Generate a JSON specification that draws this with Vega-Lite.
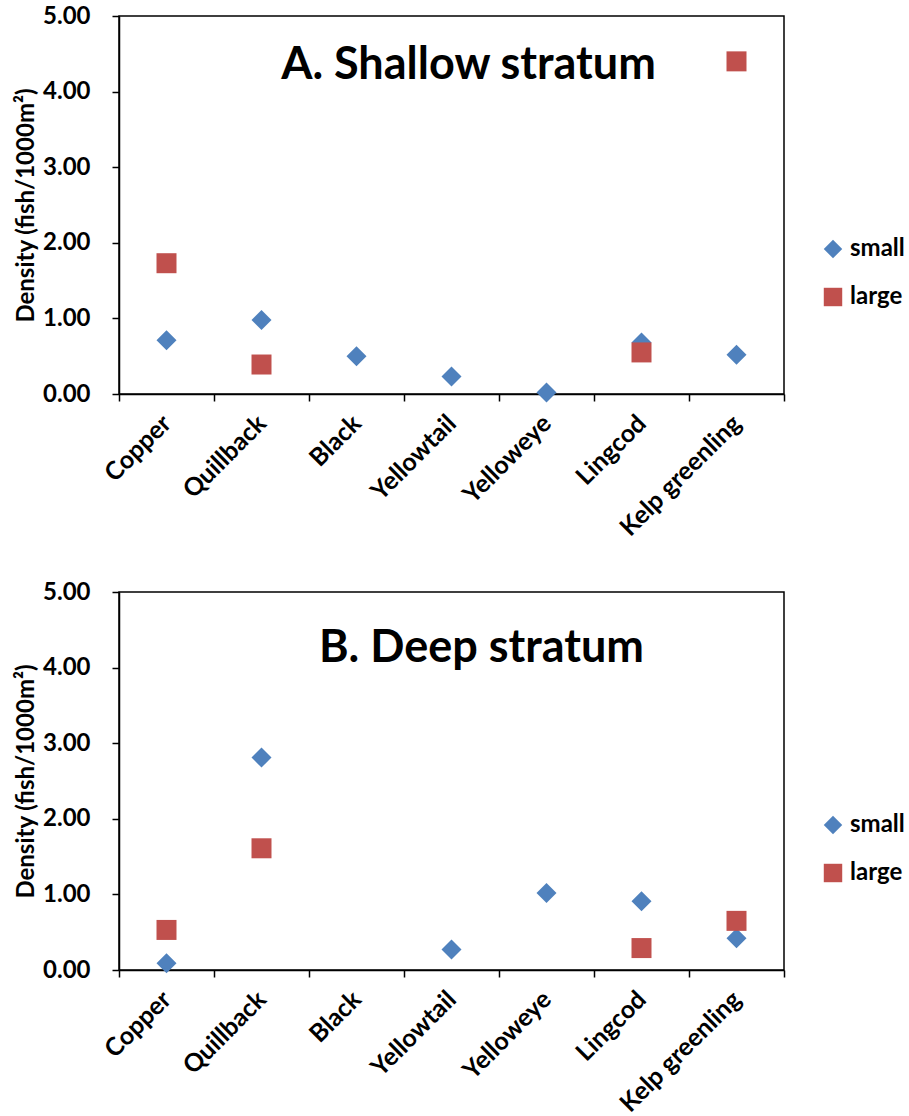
{
  "$schema": "https://vega.github.io/schema/vega-lite/v6.json",
  "padding": {"left": 13, "top": 3, "right": 0, "bottom": 0},
  "background": "white",
  "datasets": {
    "points": [
      {"panel": "A", "species": "Copper", "size": "small", "density": 0.71},
      {"panel": "A", "species": "Quillback", "size": "small", "density": 0.98},
      {"panel": "A", "species": "Black", "size": "small", "density": 0.50},
      {"panel": "A", "species": "Yellowtail", "size": "small", "density": 0.23},
      {"panel": "A", "species": "Yelloweye", "size": "small", "density": 0.02},
      {"panel": "A", "species": "Lingcod", "size": "small", "density": 0.68},
      {"panel": "A", "species": "Kelp greenling", "size": "small", "density": 0.52},
      {"panel": "A", "species": "Copper", "size": "large", "density": 1.73},
      {"panel": "A", "species": "Quillback", "size": "large", "density": 0.39},
      {"panel": "A", "species": "Lingcod", "size": "large", "density": 0.55},
      {"panel": "A", "species": "Kelp greenling", "size": "large", "density": 4.40},
      {"panel": "B", "species": "Copper", "size": "small", "density": 0.09},
      {"panel": "B", "species": "Quillback", "size": "small", "density": 2.81},
      {"panel": "B", "species": "Yellowtail", "size": "small", "density": 0.27},
      {"panel": "B", "species": "Yelloweye", "size": "small", "density": 1.02},
      {"panel": "B", "species": "Lingcod", "size": "small", "density": 0.91},
      {"panel": "B", "species": "Kelp greenling", "size": "small", "density": 0.42},
      {"panel": "B", "species": "Copper", "size": "large", "density": 0.53},
      {"panel": "B", "species": "Quillback", "size": "large", "density": 1.61},
      {"panel": "B", "species": "Lingcod", "size": "large", "density": 0.29},
      {"panel": "B", "species": "Kelp greenling", "size": "large", "density": 0.65}
    ],
    "titles": [
      {"panel": "A", "label": "A. Shallow stratum"},
      {"panel": "B", "label": "B. Deep stratum"}
    ]
  },
  "bounds": "flush",
  "spacing": 198,
  "resolve": {"legend": {"color": "independent", "shape": "independent"}},
  "vconcat": [
    {
      "width": 665,
      "height": 378,
      "layer": [
        {
          "data": {"name": "points"},
          "transform": [{"filter": "datum.panel === 'A'"}],
          "mark": {"type": "point", "filled": true, "size": 400, "opacity": 1},
          "encoding": {
            "x": {"field": "species", "type": "nominal", "sort": null,
                  "scale": {"type": "band", "paddingInner": 0, "paddingOuter": 0,
                            "domain": ["Copper", "Quillback", "Black", "Yellowtail", "Yelloweye", "Lingcod", "Kelp greenling"]},
                  "title": null},
            "y": {"field": "density", "type": "quantitative",
                  "scale": {"domain": [0, 5], "nice": false},
                  "title": "Density (fish/1000m²)",
                  "axis": {"values": [0, 1, 2, 3, 4, 5], "format": ".2f"}},
            "color": {"field": "size", "type": "nominal",
                      "scale": {"domain": ["small", "large"], "range": ["#4F81BD", "#C0504D"]},
                      "legend": {"title": null, "orient": "none", "legendX": 702, "legendY": 221}},
            "shape": {"field": "size", "type": "nominal",
                      "scale": {"domain": ["small", "large"], "range": ["diamond", "square"]},
                      "legend": {"title": null, "orient": "none", "legendX": 702, "legendY": 221}}
          }
        },
        {
          "data": {"name": "titles"},
          "transform": [{"filter": "datum.panel === 'A'"}],
          "mark": {"type": "text", "fontSize": 45, "fontWeight": "bold", "color": "black", "align": "center", "baseline": "alphabetic", "dx": 17},
          "encoding": {
            "text": {"field": "label"},
            "x": {"datum": "Yellowtail", "type": "nominal", "title": null},
            "y": {"datum": 4.17, "type": "quantitative", "title": "Density (fish/1000m²)"}
          }
        }
      ]
    },
    {
      "width": 665,
      "height": 378,
      "layer": [
        {
          "data": {"name": "points"},
          "transform": [{"filter": "datum.panel === 'B'"}],
          "mark": {"type": "point", "filled": true, "size": 400, "opacity": 1},
          "encoding": {
            "x": {"field": "species", "type": "nominal", "sort": null,
                  "scale": {"type": "band", "paddingInner": 0, "paddingOuter": 0,
                            "domain": ["Copper", "Quillback", "Black", "Yellowtail", "Yelloweye", "Lingcod", "Kelp greenling"]},
                  "title": null},
            "y": {"field": "density", "type": "quantitative",
                  "scale": {"domain": [0, 5], "nice": false},
                  "title": "Density (fish/1000m²)",
                  "axis": {"values": [0, 1, 2, 3, 4, 5], "format": ".2f"}},
            "color": {"field": "size", "type": "nominal",
                      "scale": {"domain": ["small", "large"], "range": ["#4F81BD", "#C0504D"]},
                      "legend": {"title": null, "orient": "none", "legendX": 702, "legendY": 221}},
            "shape": {"field": "size", "type": "nominal",
                      "scale": {"domain": ["small", "large"], "range": ["diamond", "square"]},
                      "legend": {"title": null, "orient": "none", "legendX": 702, "legendY": 221}}
          }
        },
        {
          "data": {"name": "titles"},
          "transform": [{"filter": "datum.panel === 'B'"}],
          "mark": {"type": "text", "fontSize": 45, "fontWeight": "bold", "color": "black", "align": "center", "baseline": "alphabetic", "dx": 30},
          "encoding": {
            "text": {"field": "label"},
            "x": {"datum": "Yellowtail", "type": "nominal", "title": null},
            "y": {"datum": 4.08, "type": "quantitative", "title": "Density (fish/1000m²)"}
          }
        }
      ]
    }
  ],
  "config": {
    "font": "Lato",
    "view": {"stroke": "black", "strokeWidth": 1.5},
    "axis": {
      "grid": false,
      "domainColor": "black",
      "domainWidth": 1.5,
      "tickColor": "black",
      "tickWidth": 1.5,
      "tickSize": 7,
      "labelColor": "black",
      "labelFontSize": 24,
      "labelFontWeight": "bold",
      "titleColor": "black",
      "titleFontSize": 24,
      "titleFontWeight": "bold"
    },
    "axisX": {"labelAngle": -45, "labelAlign": "right", "labelBaseline": "middle", "labelPadding": 18, "labelFontSize": 25, "tickBand": "extent"},
    "axisY": {"labelPadding": 22, "titlePadding": 4},
    "legend": {
      "labelFontSize": 24,
      "labelFontWeight": "bold",
      "labelColor": "black",
      "symbolSize": 340,
      "symbolStrokeWidth": 0,
      "rowPadding": 24,
      "labelOffset": 5
    }
  }
}
